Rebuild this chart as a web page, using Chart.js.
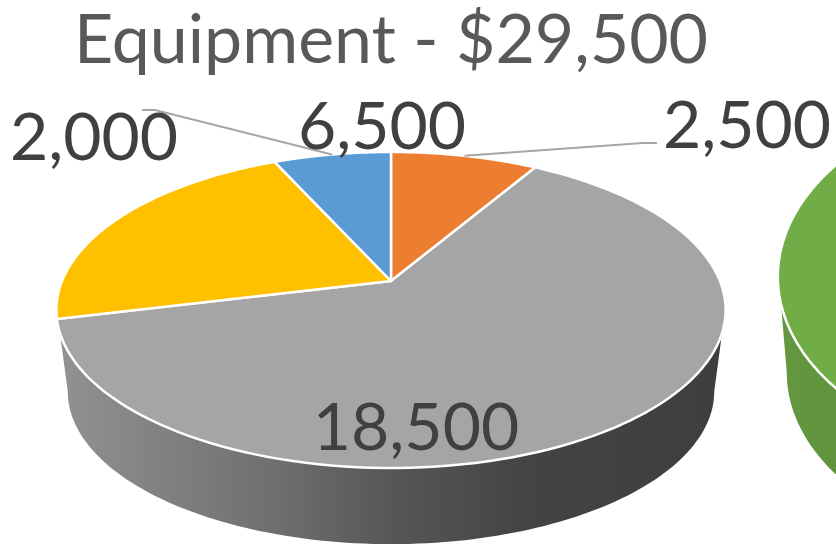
<!DOCTYPE html>
<html lang="en">
<head>
  <meta charset="UTF-8" />
  <title>Equipment - $29,500</title>
  <script src="https://cdn.jsdelivr.net/npm/chart.js"></script>
  <style>
    html, body { margin: 0; padding: 0; background: #fff; overflow: hidden; }
    #page { position: relative; width: 836px; height: 544px; overflow: hidden; }
    canvas { position: absolute; top: 0; }
    #equipmentChart { left: 0; }
    #nextChart { left: 758px; }
  </style>
</head>
<body>
  <div id="page">
    <canvas id="nextChart" width="640" height="544"></canvas>
    <canvas id="equipmentChart" width="836" height="544"></canvas>
  </div>

  <script>
    const chartTitle = 'Equipment - $29,500';
    const sliceNames = ['Item A', 'Item B', 'Item C', 'Item D'];
    const sliceValues = [2500, 18500, 6500, 2000];
    const sliceColors = ['#ED7D31', '#A5A5A5', '#FFC000', '#5B9BD5'];

    // only the edge of the neighbouring pie is in frame, one slice is all that shows
    const nextNames = ['Next'];
    const nextValues = [1];
    const nextColors = ['#70AD47'];

    const labelFont = '66px Lato';
    const labelColor = '#404040';
    const leaderColor = '#A6A6A6';

    // circle point on the pie plane -> screen, with perspective
    function project(el, t, angle, lower) {
      const u = Math.cos(angle);
      const v = -Math.sin(angle);
      const d = 1 + t.perspective * v;
      const s = lower ? t.shrink : 1;
      const R = el.outerRadius;
      return {
        x: el.x + s * t.stretchX * R * u / d,
        y: el.y - t.rise + (lower ? t.depth : 0) - s * t.stretchY * R * v / d
      };
    }

    function traceArc(ctx, el, t, from, to, lower, move) {
      const steps = 120;
      for (let i = 0; i <= steps; i++) {
        const p = project(el, t, from + (to - from) * i / steps, lower);
        if (i === 0 && move) ctx.moveTo(p.x, p.y);
        else ctx.lineTo(p.x, p.y);
      }
    }

    const tiltedPie = {
      id: 'tiltedPie',
      beforeDatasetDraw(chart, args, opts) {
        const ctx = chart.ctx;
        const arcs = chart.getDatasetMeta(args.index).data;
        const el = arcs[0];
        const deg = Math.PI / 180;

        // side wall first
        const grad = ctx.createLinearGradient(opts.wallFrom, 0, opts.wallTo, 0);
        opts.wallStops.forEach(s => grad.addColorStop(s[0], s[1]));
        ctx.beginPath();
        traceArc(ctx, el, opts, opts.wallTop * deg, (180 - opts.wallTop) * deg, false, true);
        traceArc(ctx, el, opts, (180 - opts.wallBottom) * deg, opts.wallBottom * deg, true, false);
        ctx.closePath();
        ctx.fillStyle = grad;
        ctx.fill();

        // top face
        ctx.lineJoin = 'round';
        arcs.forEach(arc => {
          ctx.beginPath();
          ctx.moveTo(el.x, el.y - opts.rise);
          traceArc(ctx, el, opts, arc.startAngle, arc.endAngle, false, false);
          ctx.closePath();
          ctx.fillStyle = arc.options.backgroundColor;
          ctx.fill();
          ctx.strokeStyle = '#fff';
          ctx.lineWidth = opts.edge;
          ctx.stroke();
        });

        // leader lines and value labels
        ctx.textAlign = 'center';
        ctx.textBaseline = 'middle';
        (opts.labels || []).forEach(l => {
          const arc = arcs[l.index];
          if (l.leader) {
            const end = project(el, opts, (arc.startAngle + arc.endAngle) / 2, false);
            ctx.beginPath();
            ctx.moveTo(l.leader[0][0], l.leader[0][1]);
            ctx.lineTo(l.leader[1][0], l.leader[1][1]);
            ctx.lineTo(end.x, end.y);
            ctx.strokeStyle = leaderColor;
            ctx.lineWidth = 2;
            ctx.stroke();
          }
        });
        (opts.labels || []).forEach(l => {
          ctx.font = labelFont;
          ctx.fillStyle = labelColor;
          ctx.fillText(sliceValues[l.index].toLocaleString('en-US'), l.x, l.y);
        });
        return false;
      }
    };

    new Chart(document.getElementById('equipmentChart'), {
      type: 'pie',
      data: {
        labels: sliceNames,
        datasets: [{ data: sliceValues, backgroundColor: sliceColors, borderWidth: 0 }]
      },
      plugins: [tiltedPie],
      options: {
        responsive: false,
        animation: false,
        layout: { padding: { right: 54 } },
        plugins: {
          legend: { display: false },
          tooltip: { enabled: false },
          title: {
            display: true,
            text: chartTitle,
            color: '#595959',
            font: { family: 'Lato', size: 68, weight: 'normal' },
            padding: { top: 0, bottom: 0.4 }
          },
          tiltedPie: {
            stretchX: 1.424, stretchY: 0.661, rise: 32, perspective: 0.1835,
            shrink: 0.966, depth: 82.5, edge: 2.5,
            wallTop: 18.7, wallBottom: 10.6,
            wallFrom: 60, wallTo: 722,
            wallStops: [[0, '#929292'], [0.33, '#6e6e6e'], [0.5, '#575757'], [0.7, '#444444'], [1, '#3e3e3e']],
            labels: [
              { index: 0, x: 747, y: 127, leader: [[657, 143], [643, 143]] },
              { index: 1, x: 416, y: 429 },
              { index: 2, x: 382, y: 128 },
              { index: 3, x: 94, y: 139, leader: [[142, 110], [155, 110]] }
            ]
          }
        }
      }
    });

    new Chart(document.getElementById('nextChart'), {
      type: 'pie',
      data: {
        labels: nextNames,
        datasets: [{ data: nextValues, backgroundColor: nextColors, borderWidth: 0 }]
      },
      plugins: [tiltedPie],
      options: {
        responsive: false,
        animation: false,
        plugins: {
          legend: { display: false },
          tooltip: { enabled: false },
          tiltedPie: {
            stretchX: 1.085, stretchY: 0.671, rise: 30, perspective: 0.1835,
            shrink: 0.97, depth: 97, edge: 2.5,
            wallTop: 18.7, wallBottom: 10.6,
            wallFrom: 20, wallTo: 120,
            wallStops: [[0, '#659740'], [1, '#5E913B']]
          }
        }
      }
    });
  </script>
</body>
</html>
